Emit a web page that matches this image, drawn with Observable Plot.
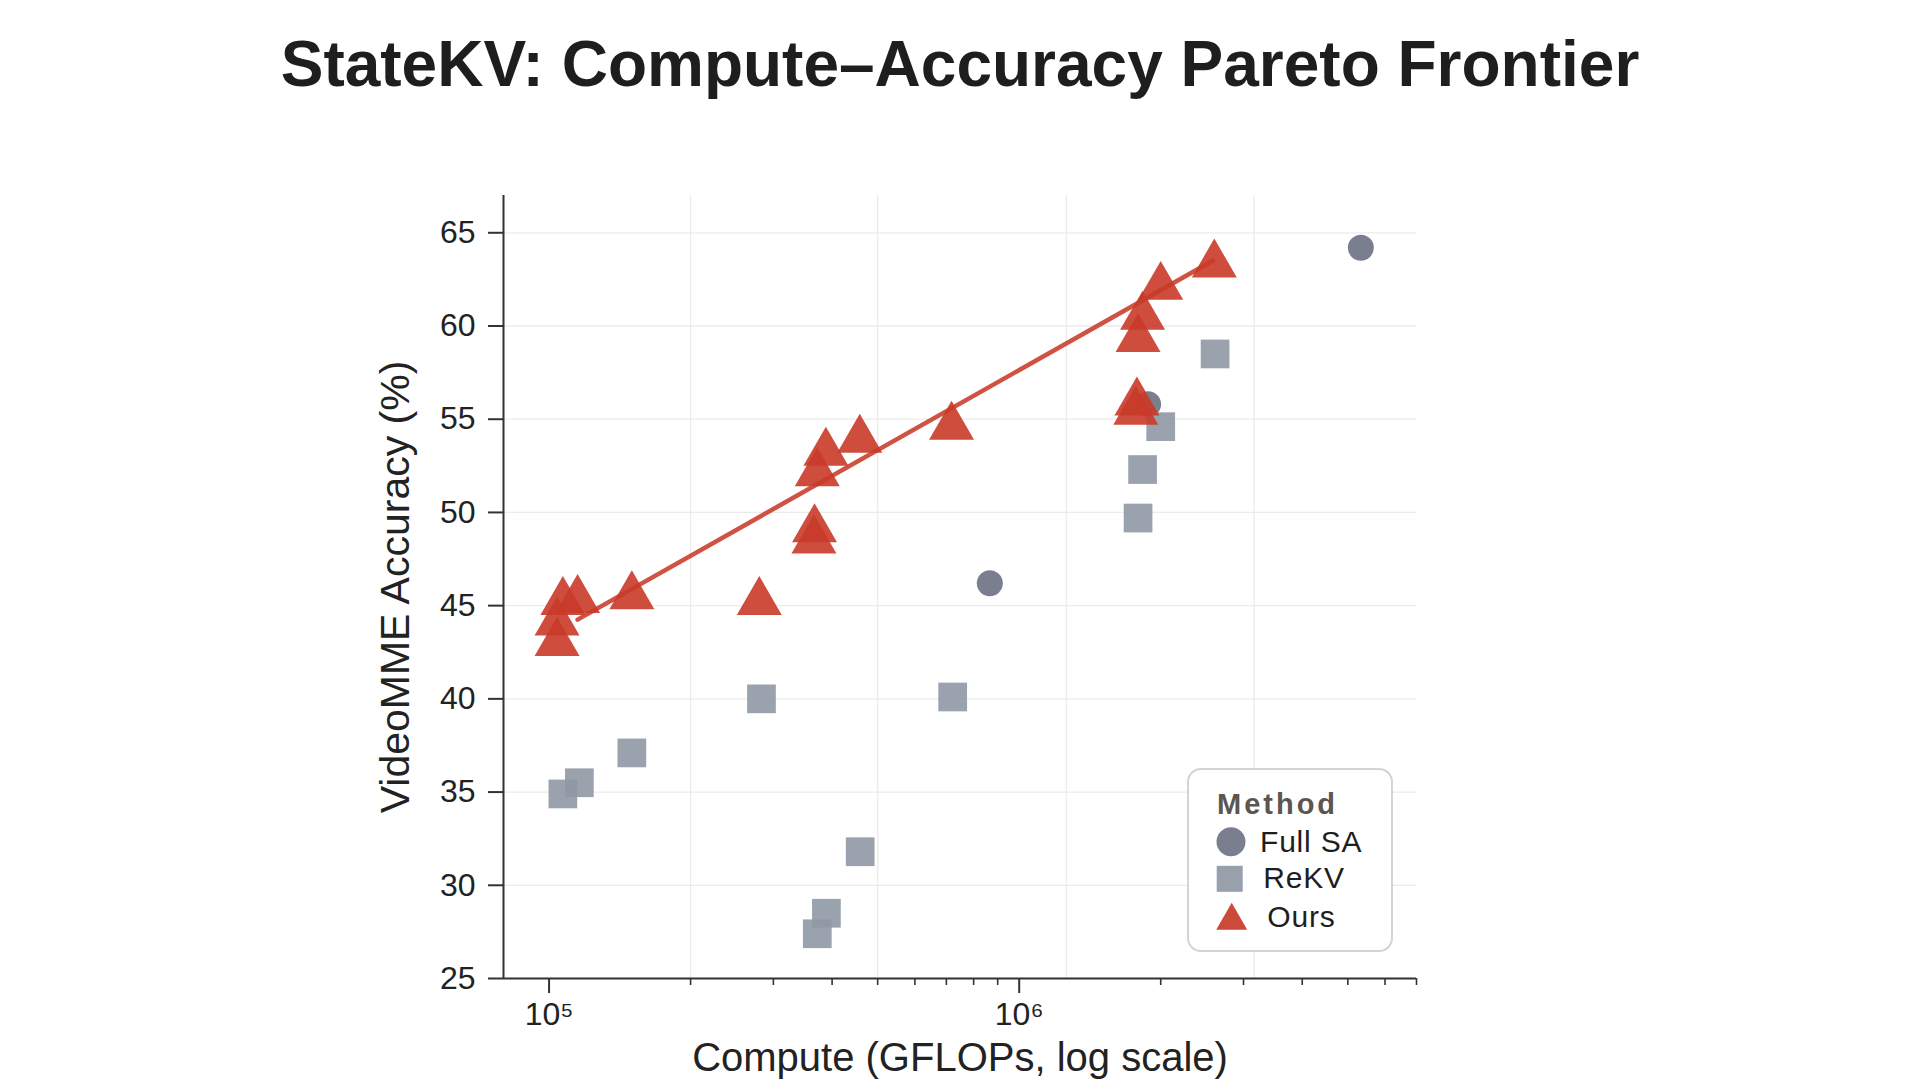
<!DOCTYPE html>
<html>
<head>
<meta charset="utf-8">
<script src="https://cdn.jsdelivr.net/npm/d3@7"></script>
<script src="https://cdn.jsdelivr.net/npm/@observablehq/plot@0.6"></script>
<style>
  html, body { margin: 0; padding: 0; background: #ffffff; }
  body { width: 1920px; height: 1080px; position: relative; overflow: hidden;
         font-family: "Liberation Sans", Arial, sans-serif; }
  #title { height: 120px; box-sizing: border-box; padding-top: 32px; text-align: center;
           font-weight: bold; font-size: 64px; line-height: 64px; color: #1e1e1e; }
  #chart { position: absolute; left: 0; top: 120px; }
  #legend { position: absolute; left: 1187px; top: 768px; overflow: visible; }
</style>
</head>
<body>
<div id="title">StateKV: Compute–Accuracy Pareto Frontier</div>
<div id="chart"></div>
<svg id="legend" width="206" height="184"></svg>
<script>
// ---- data ----
const methods = ["Full SA", "ReKV", "Ours"];

const fullSAGflops = [8.66e5, 1.88e6, 5.33e6];
const fullSAAcc    = [46.2, 55.8, 64.2];

const rekvGflops = [1.07e5, 1.16e5, 1.50e5, 2.83e5, 3.72e5, 3.89e5, 4.59e5, 7.22e5, 1.79e6, 1.83e6, 2.00e6, 2.61e6];
const rekvAcc    = [34.9, 35.5, 37.1, 40.0, 27.4, 28.5, 31.8, 40.1, 49.7, 52.3, 54.6, 58.5];

const oursGflops = [1.04e5, 1.04e5, 1.07e5, 1.15e5, 1.50e5, 2.80e5, 3.66e5, 3.67e5, 3.72e5, 3.88e5, 4.58e5, 7.18e5, 1.77e6, 1.78e6, 1.79e6, 1.83e6, 2.00e6, 2.60e6];
const oursAcc    = [43.0, 44.1, 45.2, 45.3, 45.5, 45.2, 48.5, 49.1, 52.1, 53.2, 53.9, 54.6, 55.4, 55.9, 59.3, 60.5, 62.1, 63.3];

const frontierGflops = [1.15e5, 2.58e6];
const frontierAcc    = [44.25, 63.5];

const yTicks      = [25, 30, 35, 40, 45, 50, 55, 60, 65];
const xMajorTicks = [1e5, 1e6];
const xMinorTicks = [2e5, 3e5, 4e5, 5e5, 6e5, 7e5, 8e5, 9e5, 2e6, 3e6, 4e6, 5e6, 6e6, 7e6];
const xGridlines  = [2e5, 5e5, 1.26e6, 3.16e6];
const xDomain = [8e4, 7e6];
const yDomain = [25, 67];

const titleText = "StateKV: Compute–Accuracy Pareto Frontier";
const xLabel = "Compute (GFLOPs, log scale)";
const yLabel = "VideoMME Accuracy (%)";
const legendTitle = "Method";

// ---- styles ----
const colors = { "Full SA": "#6f7485", "ReKV": "#8f98a4", "Ours": "#c93a28" };
const symbols = { "Full SA": "circle", "ReKV": "square", "Ours": "triangle" };

const toRows = (xs, ys, m) => xs.map((x, i) => ({ gflops: x, acc: ys[i], method: m }));
const fullSA = toRows(fullSAGflops, fullSAAcc, "Full SA");
const rekv = toRows(rekvGflops, rekvAcc, "ReKV");
const ours = toRows(oursGflops, oursAcc, "Ours");
const frontier = toRows(frontierGflops, frontierAcc, "Ours");

const sup = { 5: "\u2075", 6: "\u2076" };

const chart = Plot.plot({
  width: 1920,
  height: 960,
  marginLeft: 503,
  marginRight: 504,
  marginTop: 75,
  marginBottom: 102,
  style: { fontFamily: "'Liberation Sans', Arial, sans-serif", color: "#222", background: "transparent", overflow: "visible" },
  x: { type: "log", domain: xDomain, axis: null },
  y: { domain: yDomain, axis: null },
  marks: [
    Plot.ruleY(yTicks, { stroke: "#ebebeb", strokeWidth: 1.3 }),
    Plot.ruleX(xGridlines, { stroke: "#ebebeb", strokeWidth: 1.3 }),
    Plot.dot(fullSA, { x: "gflops", y: "acc", symbol: "circle", r: 13, fill: colors["Full SA"], fillOpacity: 0.92 }),
    Plot.dot(rekv, { x: "gflops", y: "acc", symbol: "square", r: 16.2, fill: colors["ReKV"], fillOpacity: 0.9 }),
    Plot.dot(ours, { x: "gflops", y: "acc", symbol: "triangle", r: 16.7, fill: colors["Ours"], fillOpacity: 0.9 }),
    Plot.line(frontier, { x: "gflops", y: "acc", stroke: colors["Ours"], strokeWidth: 4.5, strokeOpacity: 0.88 }),
    Plot.ruleX([xDomain[0]], { stroke: "#333", strokeWidth: 2 }),
    Plot.ruleY([yDomain[0]], { stroke: "#333", strokeWidth: 2 }),
    Plot.axisY({ ticks: yTicks, tickSize: 15, tickPadding: 13, fontSize: 32, label: null, stroke: "#333", strokeWidth: 2, fill: "#222", ariaLabel: "ytick" }),
    Plot.axisX({ ticks: xMajorTicks, tickSize: 15, tickPadding: 9, fontSize: 32, label: null, stroke: "#333", strokeWidth: 2, fill: "#222",
                 tickFormat: d => "10" + sup[Math.round(Math.log10(d))], ariaLabel: "xtick" }),
    Plot.axisX({ ticks: xMinorTicks, tickSize: 7, label: null, stroke: "#333", strokeWidth: 1.6, tickFormat: () => "" }),
    Plot.text([xLabel], { text: d => d, frameAnchor: "bottom", lineAnchor: "middle", textAnchor: "middle", dy: 79.5, fontSize: 40, fill: "#222", ariaLabel: "xlabel" }),
    Plot.text([yLabel], { text: d => d, frameAnchor: "left", lineAnchor: "middle", textAnchor: "middle", dx: -107.5, rotate: -90, fontSize: 41, fill: "#222", ariaLabel: "ylabel" })
  ]
});
document.getElementById("chart").appendChild(chart);

d3.select(chart).selectAll('g[aria-label="xlabel"] text').style("letter-spacing", "-0.4px");
d3.select(chart).selectAll('g[aria-label="ylabel"] text').style("letter-spacing", "-0.7px");
d3.select(chart).selectAll('g[aria-label="ytick"] text').style("letter-spacing", "2.5px");
d3.select(chart).selectAll('g[aria-label="xtick"] text').style("letter-spacing", "2px").style("font-size", "32px");

// ---- legend ----
const lg = d3.select("#legend");
lg.append("rect").attr("x", 1).attr("y", 1).attr("width", 204).attr("height", 182).attr("rx", 13)
  .attr("fill", "#ffffff").attr("fill-opacity", 0.85).attr("stroke", "#d4d4d4").attr("stroke-width", 2);
lg.append("text").attr("x", 30).attr("y", 46).text(legendTitle)
  .attr("font-family", "'Liberation Sans', Arial, sans-serif").attr("font-weight", "bold")
  .attr("font-size", 29).attr("letter-spacing", "3px").attr("fill", "#5b5650");
const symCenters = { "Full SA": [44, 73.7], "ReKV": [42.7, 110.8], "Ours": [44.7, 152.7] };
const symSizes = { "Full SA": Math.PI * 14.5 * 14.5, "ReKV": 26 * 26, "Ours": 3 * Math.sqrt(3) * Math.pow(31 / (2 * Math.sqrt(3)), 2) };
const symTypes = { circle: d3.symbolCircle, square: d3.symbolSquare, triangle: d3.symbolTriangle };
const textPos = { "Full SA": [73, 83.7], "ReKV": [76.3, 120.3], "Ours": [80.3, 158.7] };
methods.forEach(m => {
  lg.append("path")
    .attr("d", d3.symbol(symTypes[symbols[m]], symSizes[m])())
    .attr("transform", `translate(${symCenters[m][0]},${symCenters[m][1]})`)
    .attr("fill", colors[m]).attr("fill-opacity", 0.92);
  lg.append("text").attr("x", textPos[m][0]).attr("y", textPos[m][1]).text(m)
    .attr("font-family", "'Liberation Sans', Arial, sans-serif").attr("font-size", 30)
    .attr("letter-spacing", "0.8px").attr("fill", "#1e1e1e");
});
</script>
</body>
</html>
